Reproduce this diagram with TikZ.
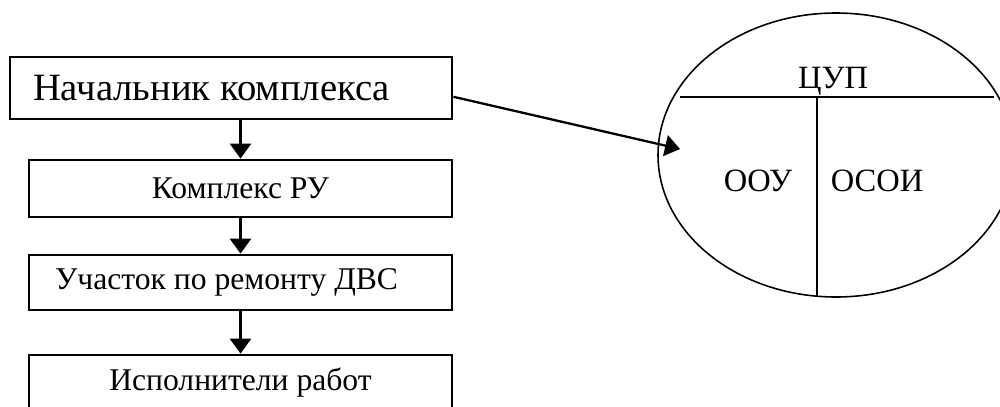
\documentclass[tikz,border=0pt]{standalone}
\usepackage{fontspec}
\setmainfont{Liberation Serif}
\usetikzlibrary{arrows.meta}
\begin{document}
\begin{tikzpicture}[x=0.02cm, y=-0.02cm, >={Triangle[length=8.5pt,width=12pt]},
    unit/.style={draw, line width=1.6pt, rectangle, inner sep=0pt},
    link/.style={->, line width=1.3pt}]
        \useasboundingbox (0,0) rectangle (1000,406);
        % chain of units
        \node[unit, minimum width=442*0.02cm, minimum height=62*0.02cm, text width=7.92cm, align=flush left, font=\fontsize{22}{26}\selectfont] (boss) at (231,88) {Начальник комплекса};
        \node[unit, minimum width=423*0.02cm, minimum height=57*0.02cm, font=\fontsize{18}{21}\selectfont] (ru) at (240.5,188.5) {Комплекс РУ};
        \node[unit, minimum width=423*0.02cm, minimum height=55*0.02cm, text width=7.42cm, align=flush left, font=\fontsize{18}{21}\selectfont] (dvs) at (240.5,282.5) {Участок по ремонту ДВС};
        \node[unit, minimum width=423*0.02cm, minimum height=56*0.02cm, font=\fontsize{18}{21}\selectfont] (work) at (240.5,383) {Исполнители работ};
        \draw[link] (ru.north |- boss.south) -- (ru.north);
        \draw[link] (ru.south) -- (dvs.north);
        \draw[link] (dvs.south) -- (work.north);
        % control centre
        \draw[line width=0.9pt] (836,155) ellipse [x radius=178, y radius=142];
        \coordinate (l) at (680,97);
        \coordinate (r) at (994,97);
        \coordinate (b) at (817,297);
        \draw[line width=1.1pt] (l) -- (r);
        \draw[line width=1.1pt] (b |- l) -- (b);
        \node[font=\fontsize{18.5}{22}\selectfont] (cup) at (833,81) {ЦУП};
        \node[font=\fontsize{18.5}{22}\selectfont] (oou) at (758,181) {ООУ};
        \node[font=\fontsize{18.5}{22}\selectfont] (osoi) at (877,181) {ОСОИ};
        \coordinate (in) at (680,149);
        \draw[link] ([yshift=-5pt]boss.east) -- (in);
    \end{tikzpicture}
\end{document}
